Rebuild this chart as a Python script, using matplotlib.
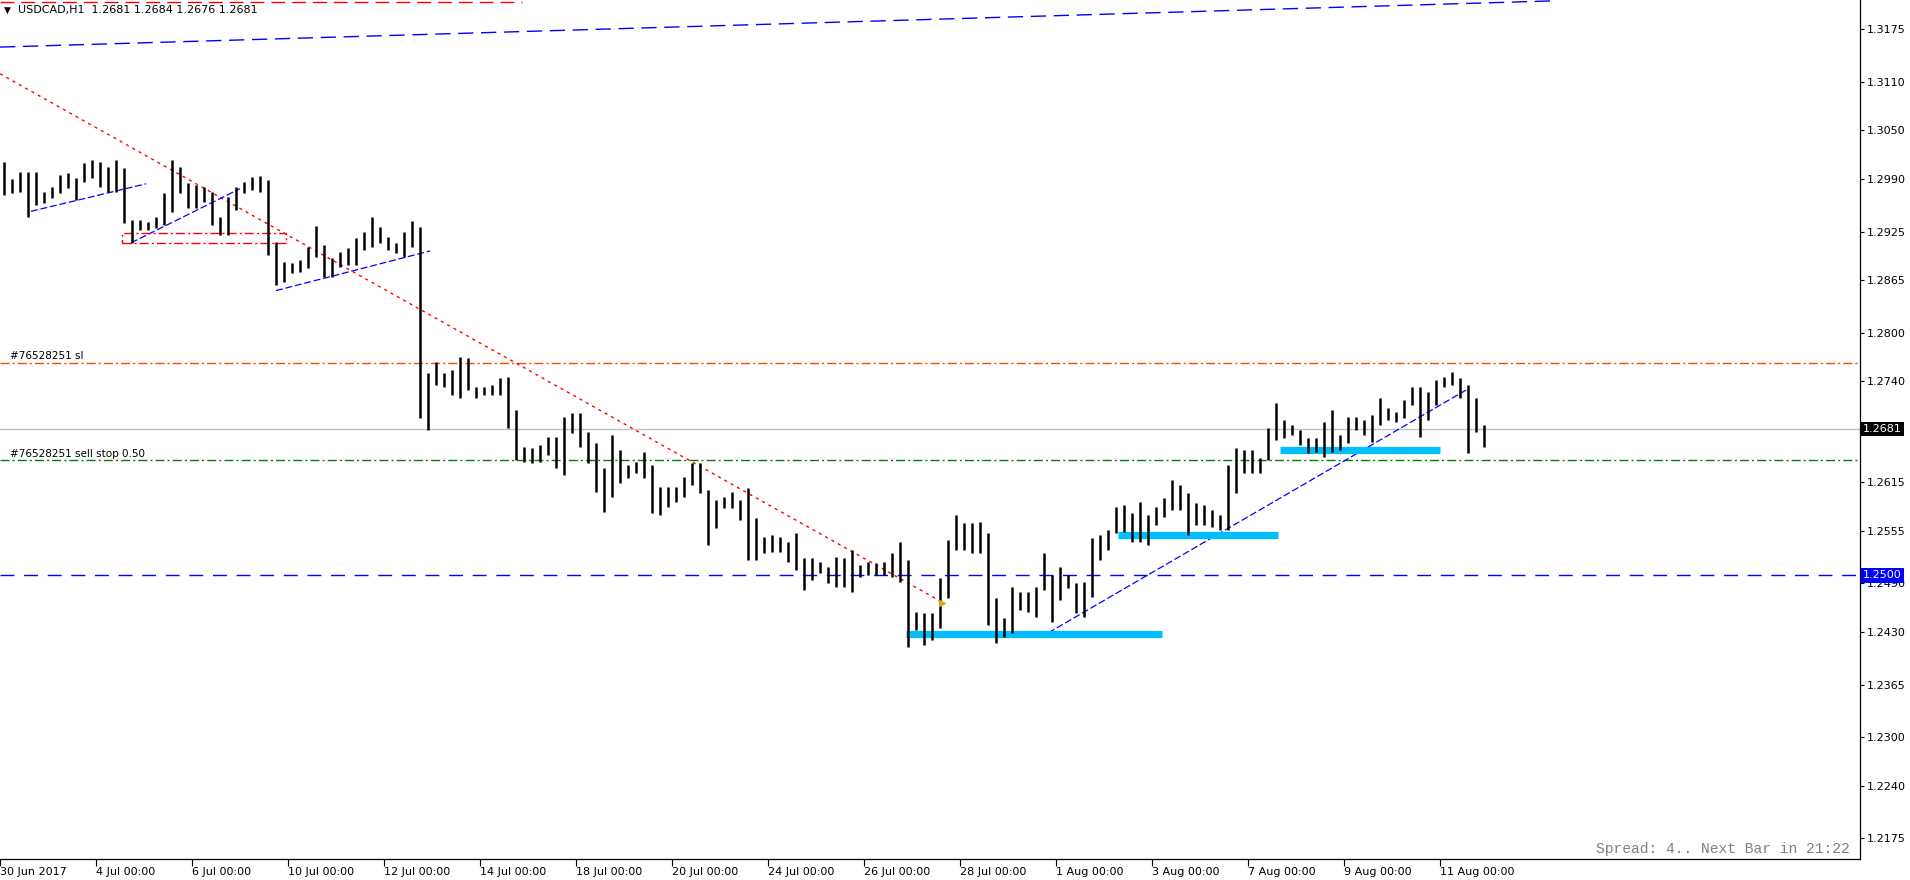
import numpy as np
import matplotlib
matplotlib.use('Agg')
import matplotlib.pyplot as plt
from matplotlib.patches import Rectangle

plt.rcParams['lines.scale_dashes'] = False
plt.rcParams['font.family'] = 'DejaVu Sans'

header = 'USDCAD,H1  1.2681 1.2684 1.2676 1.2681'
date_labels = ['30 Jun 2017', '4 Jul 00:00', '6 Jul 00:00', '10 Jul 00:00', '12 Jul 00:00',
               '14 Jul 00:00', '18 Jul 00:00', '20 Jul 00:00', '24 Jul 00:00', '26 Jul 00:00',
               '28 Jul 00:00', '1 Aug 00:00', '3 Aug 00:00', '7 Aug 00:00', '9 Aug 00:00',
               '11 Aug 00:00']
bars_per_label = 48   # H1 bars between two date labels
bars_per_group = 4    # each drawn bar covers 4 hourly bars

# high / low of every 4-hour group
highs = [1.3011, 1.2990, 1.2999, 1.2999, 1.2999, 1.2974, 1.2980, 1.2995, 1.2997, 1.2991,
         1.3010, 1.3013, 1.3011, 1.3005, 1.3013, 1.3004, 1.2939, 1.2939, 1.2937, 1.2943,
         1.2973, 1.3013, 1.3005, 1.2985, 1.2983, 1.2980, 1.2974, 1.2943, 1.2968, 1.2980,
         1.2986, 1.2992, 1.2994, 1.2989, 1.2912, 1.2887, 1.2886, 1.2890, 1.2906, 1.2932,
         1.2908, 1.2892, 1.2900, 1.2905, 1.2917, 1.2924, 1.2943, 1.2931, 1.2918, 1.2911,
         1.2924, 1.2938, 1.2931, 1.2750, 1.2764, 1.2750, 1.2754, 1.2770, 1.2769, 1.2733,
         1.2733, 1.2735, 1.2744, 1.2745, 1.2704, 1.2659, 1.2657, 1.2661, 1.2671, 1.2671,
         1.2696, 1.2701, 1.2701, 1.2677, 1.2664, 1.2633, 1.2674, 1.2655, 1.2636, 1.2640,
         1.2652, 1.2636, 1.2609, 1.2609, 1.2609, 1.2622, 1.2639, 1.2639, 1.2606, 1.2593,
         1.2597, 1.2603, 1.2593, 1.2608, 1.2571, 1.2548, 1.2550, 1.2548, 1.2541, 1.2552,
         1.2522, 1.2522, 1.2517, 1.2510, 1.2523, 1.2522, 1.2531, 1.2513, 1.2517, 1.2515,
         1.2517, 1.2528, 1.2541, 1.2519, 1.2455, 1.2453, 1.2453, 1.2497, 1.2544, 1.2575,
         1.2565, 1.2565, 1.2566, 1.2552, 1.2472, 1.2447, 1.2486, 1.2480, 1.2480, 1.2486,
         1.2528, 1.2500, 1.2510, 1.2500, 1.2491, 1.2492, 1.2546, 1.2550, 1.2556, 1.2585,
         1.2587, 1.2577, 1.2591, 1.2575, 1.2585, 1.2596, 1.2618, 1.2612, 1.2602, 1.2590,
         1.2587, 1.2581, 1.2575, 1.2636, 1.2657, 1.2655, 1.2655, 1.2645, 1.2682, 1.2713,
         1.2692, 1.2686, 1.2680, 1.2670, 1.2670, 1.2690, 1.2704, 1.2674, 1.2696, 1.2696,
         1.2692, 1.2698, 1.2719, 1.2707, 1.2702, 1.2717, 1.2733, 1.2733, 1.2727, 1.2742,
         1.2745, 1.2751, 1.2744, 1.2735, 1.2719, 1.2686]
lows = [1.2970, 1.2973, 1.2974, 1.2943, 1.2958, 1.2960, 1.2966, 1.2973, 1.2979, 1.2964,
        1.2986, 1.2991, 1.2980, 1.2974, 1.2974, 1.2936, 1.2911, 1.2927, 1.2927, 1.2929,
        1.2933, 1.2949, 1.2973, 1.2954, 1.2954, 1.2962, 1.2933, 1.2921, 1.2921, 1.2952,
        1.2973, 1.2976, 1.2974, 1.2896, 1.2859, 1.2863, 1.2874, 1.2875, 1.2880, 1.2894,
        1.2869, 1.2869, 1.2881, 1.2884, 1.2884, 1.2902, 1.2906, 1.2911, 1.2902, 1.2898,
        1.2894, 1.2906, 1.2695, 1.2680, 1.2735, 1.2733, 1.2723, 1.2719, 1.2729, 1.2719,
        1.2723, 1.2723, 1.2723, 1.2682, 1.2643, 1.2640, 1.2639, 1.2640, 1.2649, 1.2633,
        1.2624, 1.2676, 1.2659, 1.2639, 1.2603, 1.2578, 1.2597, 1.2614, 1.2620, 1.2627,
        1.2620, 1.2577, 1.2575, 1.2585, 1.2591, 1.2597, 1.2612, 1.2602, 1.2538, 1.2559,
        1.2583, 1.2583, 1.2568, 1.2519, 1.2519, 1.2528, 1.2529, 1.2529, 1.2517, 1.2507,
        1.2482, 1.2494, 1.2503, 1.2491, 1.2486, 1.2486, 1.2479, 1.2498, 1.2500, 1.2500,
        1.2500, 1.2498, 1.2492, 1.2412, 1.2433, 1.2414, 1.2420, 1.2435, 1.2472, 1.2531,
        1.2531, 1.2528, 1.2528, 1.2439, 1.2416, 1.2424, 1.2429, 1.2457, 1.2455, 1.2449,
        1.2482, 1.2442, 1.2470, 1.2484, 1.2453, 1.2449, 1.2473, 1.2519, 1.2531, 1.2552,
        1.2554, 1.2541, 1.2541, 1.2538, 1.2562, 1.2572, 1.2581, 1.2581, 1.2550, 1.2562,
        1.2562, 1.2560, 1.2556, 1.2556, 1.2602, 1.2627, 1.2627, 1.2627, 1.2643, 1.2667,
        1.2670, 1.2674, 1.2661, 1.2651, 1.2653, 1.2646, 1.2653, 1.2655, 1.2664, 1.2680,
        1.2674, 1.2665, 1.2686, 1.2692, 1.2690, 1.2695, 1.2711, 1.2671, 1.2692, 1.2711,
        1.2733, 1.2735, 1.2719, 1.2651, 1.2677, 1.2659]

price_ticks = [1.3175, 1.3110, 1.3050, 1.2990, 1.2925, 1.2865, 1.2800, 1.2740, 1.2615,
               1.2555, 1.2490, 1.2430, 1.2365, 1.2300, 1.2240, 1.2175]
last_price = 1.2681
sl_price = 1.2763
sell_stop_price = 1.2642
round_level = 1.2500
top_red_level = 1.3209

# drawn objects: (bar, price) end points
top_channel = [(0, 1.3153), (775, 1.3210)]
down_trend = [(0, 1.3120), (471, 1.2467)]
short_trends = [[(15.5, 1.2950), (73, 1.2984)],
                [(65.5, 1.2911), (120, 1.2978)],
                [(138, 1.2852), (215, 1.2901)],
                [(520, 1.2423), (733, 1.2729)]]
red_box = (61, 143, 1.2911, 1.2923)
support_zones = [(453, 581, 1.2427), (559, 639, 1.2550), (640, 720, 1.2655)]
top_red_end = 261
arrow_mark = (471, 1.2466)

W, H = 1910, 880
fig = plt.figure(figsize=(W / 100, H / 100), dpi=100)
ax = fig.add_axes([0, 21 / H, 1860 / W, 859 / H])
ax.set_xlim(0, 930)
ax.set_ylim(1.21494, 1.32112)

# price bars
x = np.arange(len(highs)) * bars_per_group + bars_per_group / 2
ax.vlines(x, lows, highs, color='black', lw=1.8, zorder=4)

# horizontal levels
ax.axhline(last_price, color='#C0C0C0', lw=1.0, zorder=2)
ax.axhline(sl_price, color='#FF4500', lw=1.0, dashes=(6.5, 2.2, 1.5, 2.2), zorder=2)
ax.axhline(sell_stop_price, color='#008000', lw=1.0, dashes=(6.5, 2.2, 1.5, 2.2), zorder=2)
ax.axhline(round_level, color='#0000FF', lw=1.0, dashes=(10, 7), zorder=2)
ax.plot([0, top_red_end], [top_red_level] * 2, color='#FF0000', lw=1.0, dashes=(10, 5),
        clip_on=False)

ax.text(5, sl_price + 0.0002, '#76528251 sl', fontsize=7.5, va='bottom', ha='left')
ax.text(5, sell_stop_price + 0.0002, '#76528251 sell stop 0.50', fontsize=7.5,
        va='bottom', ha='left')

# trend lines
(xa, ya), (xb, yb) = top_channel
ax.plot([xa, xb], [ya, yb], color='#0000FF', lw=1.0, dashes=(11, 5.5))
(xa, ya), (xb, yb) = down_trend
ax.plot([xa, xb], [ya, yb], color='#FF0000', lw=1.0, dashes=(2.2, 3.0))
for (xa, ya), (xb, yb) in short_trends:
    ax.plot([xa, xb], [ya, yb], color='#0000FF', lw=0.9, dashes=(5, 2), zorder=3)

bx0, bx1, by0, by1 = red_box
ax.add_patch(Rectangle((bx0, by0), bx1 - bx0, by1 - by0, fill=False, ec='#FF0000',
                       lw=1.0, ls=(0, (6.5, 2.2, 1.5, 2.2)), zorder=3))

for xa, xb, lvl in support_zones:
    ax.plot([xa, xb], [lvl, lvl], color='#00BFFF', lw=5.2, solid_capstyle='butt', zorder=3)

ax.plot(*arrow_mark, marker='>', color='#DAA520', ms=5, zorder=5)

# axes styling
for s in ['top', 'left']:
    ax.spines[s].set_visible(False)
for s in ['right', 'bottom']:
    ax.spines[s].set_linewidth(0.9)
ax.yaxis.tick_right()
ax.set_yticks(price_ticks)
ax.set_yticklabels([f'{v:.4f}' for v in price_ticks])
ax.tick_params(axis='y', length=3, width=0.8, pad=2, labelsize=8)
ax.set_xticks(np.arange(len(date_labels)) * bars_per_label)
ax.set_xticklabels(date_labels)
ax.tick_params(axis='x', length=5, width=0.8, pad=1, labelsize=8)
for lab in ax.get_xticklabels():
    lab.set_horizontalalignment('left')

ytr = ax.get_yaxis_transform()
ax.text(1.0015, last_price, f'{last_price:.4f}', transform=ytr, fontsize=8, color='white',
        va='center', ha='left', clip_on=False, zorder=10,
        bbox=dict(boxstyle='square,pad=0.2', fc='black', ec='none'))
ax.text(1.0015, round_level, f'{round_level:.4f}', transform=ytr, fontsize=8, color='white',
        va='center', ha='left', clip_on=False, zorder=10,
        bbox=dict(boxstyle='square,pad=0.2', fc='#0000FF', ec='none'))

fig.text(4 / W, 1 - 10 / H, '\u25bc', fontsize=6.5, va='center', ha='left')
fig.text(18 / W, 1 - 10 / H, header, fontsize=8, va='center', ha='left')

ax.text(1850 / 1860, 10 / 859, 'Spread: 4.. Next Bar in 21:22', transform=ax.transAxes,
        family='Liberation Mono', fontsize=10.5, color='#808080', ha='right', va='center')

fig.savefig('out.png', dpi=100, facecolor='white')
